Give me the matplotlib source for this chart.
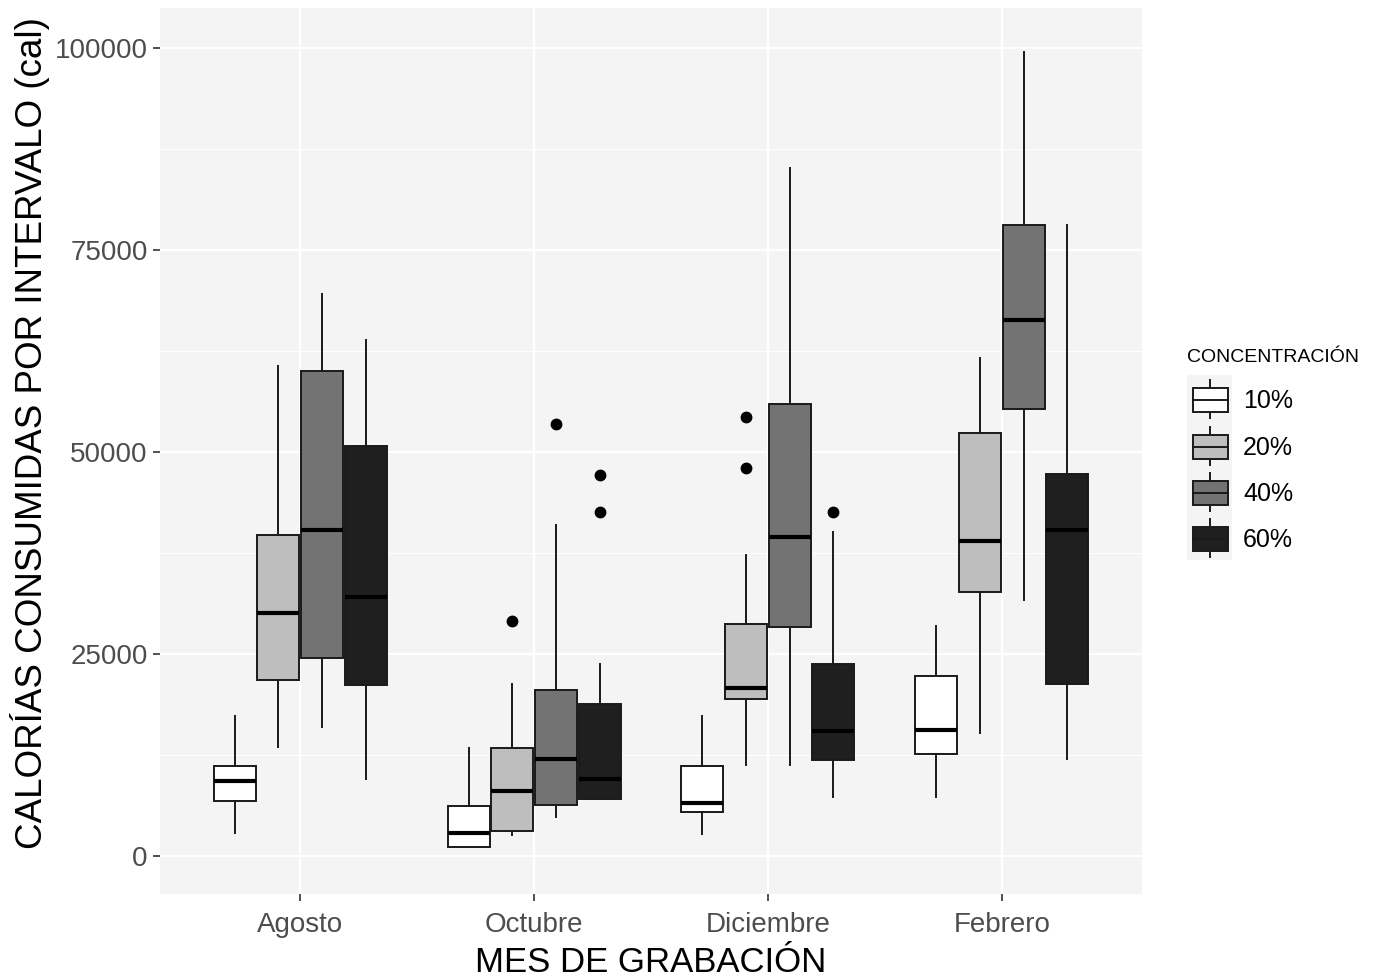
import numpy as np
import matplotlib.pyplot as plt
from matplotlib.patches import Rectangle

plt.rcParams['font.family'] = ['Liberation Sans', 'DejaVu Sans']

meses = ["Agosto", "Octubre", "Diciembre", "Febrero"]
concentraciones = ["10%", "20%", "40%", "60%"]
colores = ["#FFFFFF", "#BEBEBE", "#737373", "#1F1F1F"]

# por concentracion: [whisker bajo, q1, mediana, q3, whisker alto] para cada mes
c10 = [[2850, 6800, 9300, 11150, 17350],
       [1100, 1100, 2850, 6200, 13400],
       [2700, 5450, 6550, 11150, 17350],
       [7300, 12600, 15600, 22300, 28500]]
c20 = [[13500, 21800, 30100, 39700, 60700],
       [2600, 3100, 8050, 13400, 21300],
       [11300, 19450, 20800, 28750, 37200],
       [15200, 32700, 39000, 52300, 61600]]
c40 = [[16000, 24500, 40400, 60000, 69500],
       [4800, 6300, 12000, 20550, 41000],
       [11300, 28400, 39500, 56000, 85100],
       [31700, 55300, 66300, 78100, 99500]]
c60 = [[9500, 21200, 32100, 50800, 63900],
       [7100, 7100, 9500, 18800, 23800],
       [7300, 11900, 15500, 23800, 40150],
       [12000, 21300, 40300, 47300, 78100]]
atipicos = {
    (1, 1): [29100],
    (1, 2): [53500],
    (1, 3): [47200, 42600],
    (2, 1): [54300, 48000],
    (2, 3): [42600],
}
datos = [c10, c20, c40, c60]

fig = plt.figure(figsize=(13.75, 9.8), dpi=100)
ax = fig.add_axes([160/1375, 1-894/980, (1142-160)/1375, (894-8)/980])
ax.set_facecolor("#F4F4F4")

offsets = [-0.28, -0.094, 0.094, 0.28]
ancho = 0.18
for j, serie in enumerate(datos):
    stats = []
    pos = []
    for i, v in enumerate(serie):
        stats.append(dict(whislo=v[0], q1=v[1], med=v[2], q3=v[3], whishi=v[4],
                          fliers=atipicos.get((i, j), [])))
        pos.append(i + 1 + offsets[j])
    ax.bxp(stats, positions=pos, widths=ancho, showcaps=False, patch_artist=True,
           boxprops=dict(facecolor=colores[j], edgecolor="#1A1A1A", linewidth=1.4),
           medianprops=dict(color="black", linewidth=3.0),
           whiskerprops=dict(color="#1A1A1A", linewidth=1.4),
           flierprops=dict(marker="o", markerfacecolor="black", markeredgecolor="black",
                           markersize=7.5),
           zorder=3)

ax.set_xlim(0.4, 4.6)
ax.set_ylim(-4700, 104950)
ax.set_xticks(range(1, 5))
ax.set_xticklabels(meses)
ax.set_yticks([0, 25000, 50000, 75000, 100000])
ax.set_yticks([12500, 37500, 62500, 87500], minor=True)
ax.grid(which="major", color="white", linewidth=1.6, zorder=0)
ax.grid(which="minor", axis="y", color="white", linewidth=0.8, zorder=0)
ax.set_axisbelow(True)
for s in ax.spines.values():
    s.set_visible(False)
ax.tick_params(axis="both", which="major", colors="#333333", length=5, width=1.2,
               labelsize=20, labelcolor="#4D4D4D", pad=4)
ax.tick_params(axis="x", which="major", pad=8)
ax.tick_params(axis="y", which="minor", length=0)
ax.set_xlabel("MES DE GRABACIÓN", fontsize=25)
ax.set_ylabel("CALORÍAS CONSUMIDAS POR INTERVALO (cal)", fontsize=26.5)
ax.xaxis.set_label_coords(0.5, (894-963)/886, transform=ax.transAxes)
ax.xaxis.label.set_va("center")
ax.yaxis.set_label_coords((30-160)/982, (894-433)/886, transform=ax.transAxes)
ax.yaxis.label.set_va("center")

# leyenda
fig.text(1187/1375, 1-357/980, "CONCENTRACIÓN", fontsize=14, va="center", ha="left")
lax = fig.add_axes([1187/1375, 1-560/980, 45/1375, 185/980])
lax.set_xlim(0, 45)
lax.set_ylim(560, 375)
lax.axis("off")
lax.add_patch(Rectangle((0, 375), 45, 185, facecolor="#F4F4F4", edgecolor="none"))
ys = [401, 448, 494, 540]
for k, lab in enumerate(concentraciones):
    yc = ys[k]
    lax.plot([22.5, 22.5], [yc - 21, yc + 17], color="#1A1A1A", linewidth=1.4)
    lax.add_patch(Rectangle((5.5, yc - 13), 35, 24, facecolor=colores[k],
                            edgecolor="#1A1A1A", linewidth=1.4, zorder=3))
    lax.plot([5.5, 40.5], [yc - 1, yc - 1], color="#1A1A1A", linewidth=1.4, zorder=4)
    fig.text(1243/1375, 1-yc/980, lab, fontsize=18, va="center", ha="left")

fig.savefig("out.png", dpi=100)
